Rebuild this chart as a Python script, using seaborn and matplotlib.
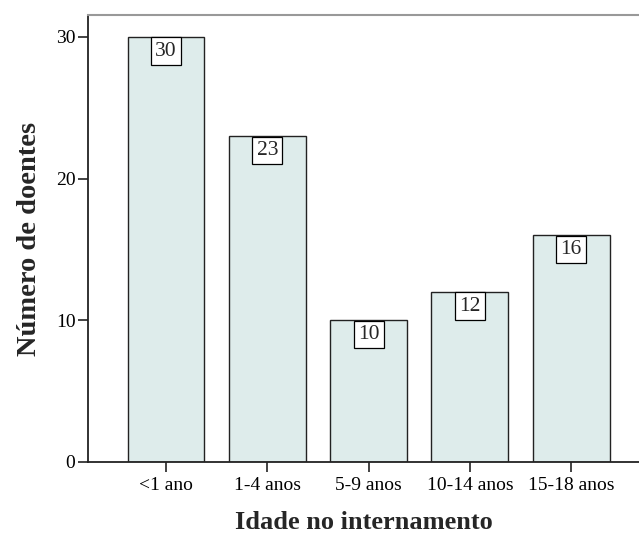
import matplotlib
matplotlib.use("Agg")
import matplotlib.pyplot as plt
import seaborn as sns
import pandas as pd

categories = ["<1 ano", "1-4 anos", "5-9 anos", "10-14 anos", "15-18 anos"]
counts = [30, 23, 10, 12, 16]
yticks = [0, 10, 20, 30]

sns.set_theme(style="white")
plt.rcParams['font.family'] = ['Liberation Serif', 'DejaVu Serif']

df = pd.DataFrame({"cat": categories, "n": counts})

fig = plt.figure(figsize=(6.39, 5.37), dpi=100)
ax = fig.add_axes([88/639, 75/537, 1 - 88/639, (462-15)/537])

sns.barplot(data=df, x="cat", y="n", ax=ax, color="#deeceb", width=0.76,
            edgecolor="#222222", linewidth=1.0, saturation=1)

for i, v in enumerate(counts):
    ax.annotate(str(v), xy=(i, v), xytext=(0, -3.4), textcoords="offset points",
                ha="center", va="top", fontsize=15.5,
                bbox=dict(boxstyle="square,pad=0.2", fc="white", ec="black", lw=0.9))

ax.set_xlim(-0.77, 4.67)
ax.set_ylim(0, 31.55)
ax.set_yticks(yticks)
ax.set_yticklabels([str(t) for t in yticks])
ax.tick_params(axis="both", which="major", direction="out", length=7, width=1.2,
               colors="#222222", labelsize=14, labelcolor="black", pad=2,
               left=True, bottom=True)
ax.tick_params(axis="x", pad=4)

for s in ["left", "bottom"]:
    ax.spines[s].set_color("#222222")
    ax.spines[s].set_linewidth(1.3)
ax.spines["top"].set_color("#999999")
ax.spines["top"].set_linewidth(1.5)
ax.spines["right"].set_visible(False)

ax.set_xlabel("Idade no internamento", fontsize=19, fontweight="bold", labelpad=12)
ax.set_ylabel("Número de doentes", fontsize=20.5, fontweight="bold", labelpad=10)

fig.savefig("out.png", dpi=100)
